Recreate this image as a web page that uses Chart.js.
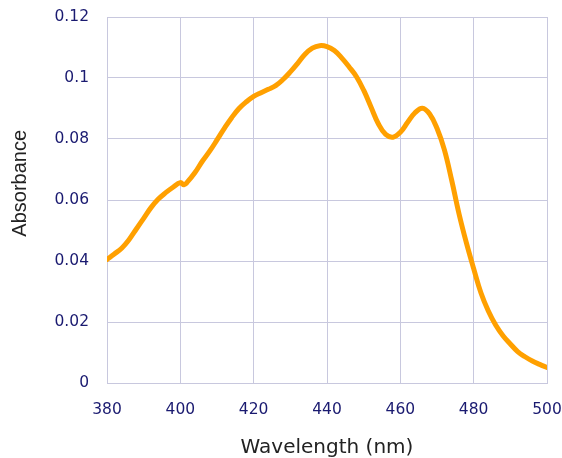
<!DOCTYPE html>
<html>
<head>
<meta charset="utf-8">
<script src="https://cdn.jsdelivr.net/npm/chart.js@4/dist/chart.umd.min.js"></script>
<style>
    body { margin: 0; background: #fff; }
    canvas { display: block; }
</style>
</head>
<body>
<canvas id="absChart" width="562" height="458"></canvas>
<script>
// wavelength (nm) and absorbance
const wavelengths = [
    380, 382, 384, 386, 388, 390, 392, 394, 396, 398,
    400, 401, 402, 404, 406, 408, 410, 412, 414, 416,
    418, 420, 422, 424, 426, 428, 430, 432, 434, 436,
    438, 440, 442, 444, 446, 448, 450, 452, 454, 456,
    458, 460, 462, 464, 466, 468, 470, 472, 474, 476,
    478, 480, 482, 484, 486, 488, 490, 492, 494, 496,
    498, 500
]
const absorbance = [
    0.0405, 0.0423, 0.0442, 0.0470, 0.0505, 0.0540, 0.0575, 0.0603, 0.0624, 0.0642,
    0.0657, 0.0650, 0.0660, 0.0690, 0.0727, 0.0760, 0.0797, 0.0835, 0.0870, 0.0900,
    0.0922, 0.0940, 0.0952, 0.0963, 0.0975, 0.0995, 0.1020, 0.1048, 0.1078, 0.1098,
    0.1106, 0.1103, 0.1090, 0.1066, 0.1037, 0.1005, 0.0960, 0.0905, 0.0850, 0.0815,
    0.0806, 0.0822, 0.0855, 0.0886, 0.0901, 0.0882, 0.0835, 0.0765, 0.0665, 0.0555,
    0.0460, 0.0375, 0.0295, 0.0236, 0.0190, 0.0155, 0.0128, 0.0103, 0.0086, 0.0072,
    0.0061, 0.0051
]
const xTicks = [380, 400, 420, 440, 460, 480, 500]
const yTicks = [0, 0.02, 0.04, 0.06, 0.08, 0.1, 0.12]

const gridColor = 'rgb(200, 200, 222)'
const tickColor = '#1a1a70'

const points = wavelengths.map((w, i) => ({ x: w, y: absorbance[i] }))

const absData = {
    datasets: [{
        label: 'Absorbance',
        data: points,
        borderColor: 'rgb(255, 160, 0)',
        borderWidth: 5,
        borderCapStyle: 'round',
        borderJoinStyle: 'round',
        pointRadius: 0,
        tension: 0.4,
        fill: false
    }]
}

// tick marks are kept but made invisible, so tickLength works as the label gap
const absConfig = {
    type: 'line',
    data: absData,
    options: {
        responsive: false,
        animation: false,
        layout: {
            padding: { top: 17, right: 15, left: 0, bottom: 0 }
        },
        plugins: {
            legend: { display: false },
            tooltip: { enabled: false }
        },
        scales: {
            x: {
                type: 'linear',
                min: xTicks[0],
                max: xTicks[xTicks.length - 1],
                afterBuildTicks: (s) => { s.ticks = xTicks.map(v => ({ value: v })) },
                afterFit: (s) => { s.height = 75 },
                grid: { color: gridColor, tickLength: 18, tickColor: 'rgba(0,0,0,0)' },
                border: { color: gridColor },
                ticks: {
                    color: tickColor,
                    padding: 0,
                    font: { family: 'DejaVu Sans', size: 15.5 },
                    maxRotation: 0
                },
                title: {
                    display: true,
                    text: 'Wavelength (nm)',
                    color: '#222',
                    font: { family: 'DejaVu Sans', size: 20 },
                    padding: { top: 0, bottom: -2 }
                }
            },
            y: {
                min: 0,
                max: 0.12,
                afterBuildTicks: (s) => { s.ticks = yTicks.map(v => ({ value: v })) },
                afterFit: (s) => { s.width = 107 },
                grid: { color: gridColor, tickLength: 18, tickColor: 'rgba(0,0,0,0)' },
                border: { color: gridColor },
                ticks: {
                    color: tickColor,
                    padding: 0,
                    font: { family: 'DejaVu Sans', size: 15.5 },
                    callback: (v) => String(+v.toFixed(2))
                },
                title: {
                    display: true,
                    // leading spaces push the label a bit above the axis centre
                    text: '      Absorbance',
                    color: '#222',
                    font: { family: 'Liberation Sans', size: 20 },
                    padding: { top: 8.5, bottom: 0 }
                }
            }
        }
    }
}

const absChart = new Chart(
    document.getElementById('absChart'),
    absConfig
)
</script>
</body>
</html>
